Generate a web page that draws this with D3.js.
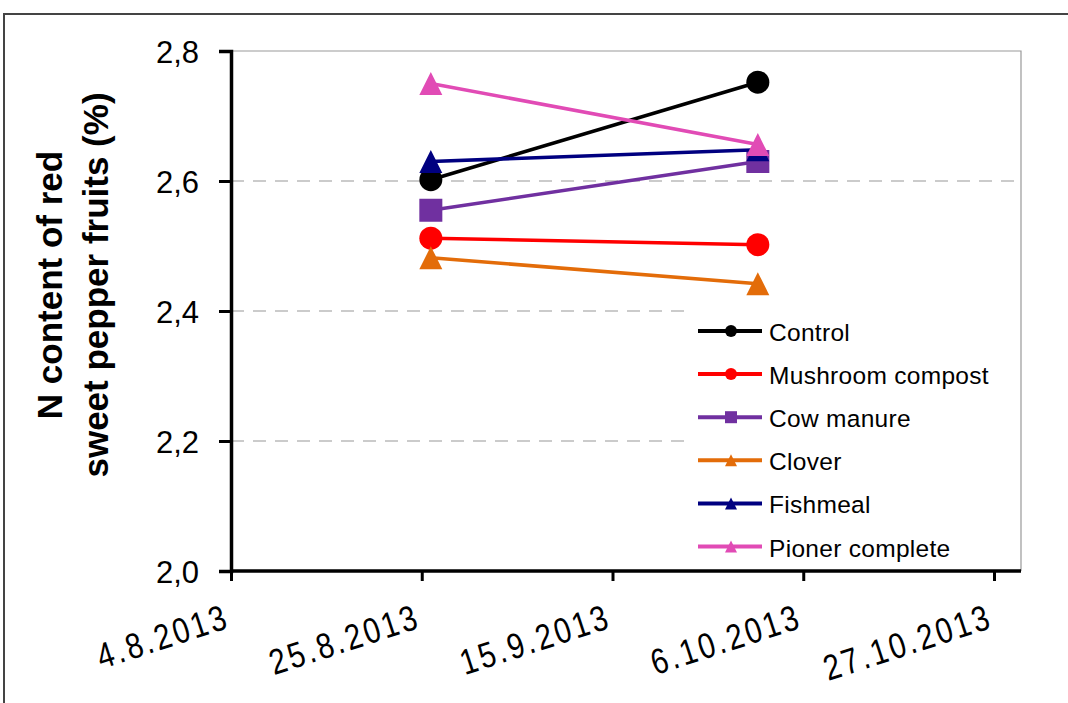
<!DOCTYPE html>
<html><head><meta charset="utf-8">
<script src="https://cdn.jsdelivr.net/npm/d3@7"></script>
<style>body{margin:0;background:#fff}svg{display:block;font-family:Arial,"Liberation Sans",sans-serif}</style>
</head><body>
<svg id="c" width="1068" height="703"></svg>
<script>
const dates = ["2013-08-26","2013-10-01"];
const tickDates = ["2013-08-04","2013-08-25","2013-09-15","2013-10-06","2013-10-27"];
const tickLabels = ["4.8.2013","25.8.2013","15.9.2013","6.10.2013","27.10.2013"];
const yTicks = [2.0,2.2,2.4,2.6,2.8];
const seriesNames = ["Control","Mushroom compost","Cow manure","Clover","Fishmeal","Pioner complete"];
const control = [2.602, 2.752];
const mushroom = [2.512, 2.502];
const cowManure = [2.555, 2.630];
const clover = [2.482, 2.442];
const fishmeal = [2.630, 2.648];
const pioner = [2.750, 2.656];
const seriesValues = [control, mushroom, cowManure, clover, fishmeal, pioner];
const colors = ["#000000","#ff0000","#7030a0","#e36c09","#000080","#e14bb5"];
const shapes = ["circle","circle","square","triangle","triangle","triangle"];

const parse = d3.timeParse("%Y-%m-%d");
const svg = d3.select("#c");
const L = 231, R = 994, PR = 1021, T = 51, B = 571;
const x = d3.scaleTime().domain([parse(tickDates[0]), parse(tickDates[4])]).range([L, R]);
const y = d3.scaleLinear().domain([2.0, 2.8]).range([B, T]);

// outer frame
svg.append("rect").attr("x",4).attr("y",14).attr("width",1100).attr("height",720)
  .attr("fill","none").attr("stroke","#444").attr("stroke-width",2);

// plot frame (top/right thin)
svg.append("path").attr("d",`M${L},${T}H${PR}V${B}`).attr("fill","none").attr("stroke","#999").attr("stroke-width",1.2);

// gridlines
svg.append("g").selectAll("line").data(yTicks.filter(v=>v>2.0 && v<2.8)).join("line")
  .attr("x1",L).attr("x2",PR).attr("y1",d=>y(d)).attr("y2",d=>y(d))
  .attr("stroke","#bbb").attr("stroke-width",1.3).attr("stroke-dasharray","13,9");

// y axis
const yAxis = d3.axisLeft(y).tickValues(yTicks).tickSize(12).tickPadding(20)
  .tickFormat(d=>d3.format(".1f")(d).replace(".",","));
const gy = svg.append("g").attr("transform",`translate(${L},0)`).call(yAxis);
gy.select(".domain").attr("stroke","#000").attr("stroke-width",3.5);
gy.selectAll(".tick line").attr("stroke","#000").attr("stroke-width",3);
gy.selectAll("text").attr("font-size",31).attr("fill","#000").attr("dy","0.36em")
  .attr("font-family","Arial, 'Liberation Sans', sans-serif");

// x axis
const xAxis = d3.axisBottom(x).tickValues(tickDates.map(parse)).tickSize(10)
  .tickFormat((d,i)=>tickLabels[i]);
const gx = svg.append("g").attr("transform",`translate(0,${B})`).call(xAxis);
gx.select(".domain").attr("d",`M${L},0H${PR}`).attr("stroke","#000").attr("stroke-width",3.5);
gx.selectAll(".tick line").attr("stroke","#000").attr("stroke-width",3);
gx.selectAll("text").attr("font-size",32).attr("fill","#000").attr("letter-spacing",3)
  .attr("font-family","Arial, 'Liberation Sans', sans-serif")
  .attr("text-anchor","end").attr("dy",null).attr("y",0)
  .attr("transform","translate(0,56) rotate(-18) scale(0.92,1.12)");

// y title
const yt = svg.append("text").attr("transform","translate(62,285) rotate(-90)")
  .attr("text-anchor","middle").attr("font-weight","bold").attr("font-size",35).attr("fill","#000");
yt.append("tspan").attr("x",0).attr("y",0).text("N content of red");
yt.append("tspan").attr("x",0).attr("y",46).text("sweet pepper fruits (%)");

function marker(g, shape, cx, cy, s, color){
  if(shape==="circle") g.append("circle").attr("cx",cx).attr("cy",cy).attr("r",s/2).attr("fill",color);
  else if(shape==="square") g.append("rect").attr("x",cx-s/2).attr("y",cy-s/2).attr("width",s).attr("height",s).attr("fill",color);
  else g.append("path").attr("d",`M${cx},${cy-s/2}L${cx+s/2},${cy+s/2}L${cx-s/2},${cy+s/2}Z`).attr("fill",color);
}

const line = d3.line().x((d,i)=>x(parse(dates[i]))).y(d=>y(d));
const plot = svg.append("g");
seriesValues.forEach((vals,k)=>{
  plot.append("path").attr("d",line(vals)).attr("fill","none").attr("stroke",colors[k]).attr("stroke-width",3.6);
  vals.forEach((v,i)=>marker(plot, shapes[k], x(parse(dates[i])), y(v), 23, colors[k]));
});

// legend
const lg = svg.append("g");
lg.append("rect").attr("x",690).attr("y",300).attr("width",330).attr("height",268).attr("fill","#fff");
seriesNames.forEach((n,k)=>{
  const yy = 331 + k*43.1;
  lg.append("line").attr("x1",698).attr("x2",762).attr("y1",yy).attr("y2",yy).attr("stroke",colors[k]).attr("stroke-width",4);
  marker(lg, shapes[k], 731, yy, 12, colors[k]);
  lg.append("text").attr("x",769).attr("y",yy+10).attr("font-size",24.5).attr("letter-spacing",0.3).attr("fill","#000").text(n);
});
</script>
</body></html>
